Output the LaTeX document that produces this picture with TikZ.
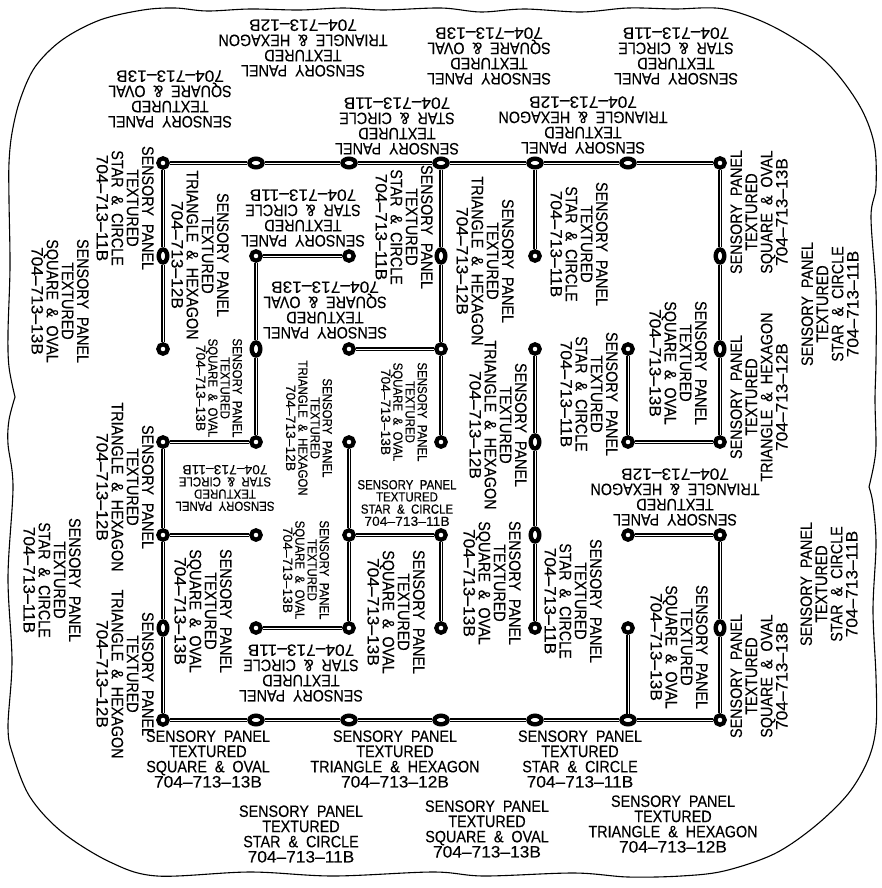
\documentclass[tikz,border=0pt]{standalone}
\usepackage{fontspec}
\usepackage{xcolor}
\setmainfont[FakeStretch=0.87,WordSpace=2,FakeBold=0.25]{Liberation Sans}
\newfontfamily\numfont[FakeStretch=1.05,FakeBold=0.25]{Liberation Sans}
\usetikzlibrary{shapes.geometric}
\definecolor{ink}{HTML}{000000}
\newcommand{\panelstar}{SENSORY PANEL\\TEXTURED\\STAR \& CIRCLE\\{\numfont 704–713–11B}}
\newcommand{\paneltri}{SENSORY PANEL\\TEXTURED\\TRIANGLE \& HEXAGON\\{\numfont 704–713–12B}}
\newcommand{\panelsqr}{SENSORY PANEL\\TEXTURED\\SQUARE \& OVAL\\{\numfont 704–713–13B}}
\tikzset{
  pipe/.style={draw=ink, line width=1.9pt, double=white, double distance=0.9pt},
  joint/.style={circle, draw=ink, fill=white, line width=4.2pt, minimum size=9.4pt, inner sep=0pt},
  jointh/.style={ellipse, draw=ink, fill=white, line width=4.4pt, minimum width=13pt, minimum height=8.6pt, inner sep=0pt},
  jointv/.style={ellipse, draw=ink, fill=white, line width=4.4pt, minimum width=8.6pt, minimum height=13pt, inner sep=0pt},
  lab/.style={text=ink, align=center, inner sep=0pt, font=\fontsize{16.5}{15.2}\selectfont},
  labs/.style={text=ink, align=center, inner sep=0pt, font=\fontsize{13.2}{12.2}\selectfont},
  edge/.style={draw=ink, line width=1.1pt, line join=round},
}
\begin{document}
\begin{tikzpicture}[x=1pt,y=-1pt]
  \useasboundingbox (0,0) rectangle (882,888);
  % outer edge
  \draw[edge] plot[smooth,tension=0.55] coordinates {(15,397) (9,367) (8,333) (10,267) (9,200) (9,163) (12,133) (20,100) (35,67) (62,40) (100,20) (143,10) (175,8) (207,11) (250,9) (300,10) (343,8) (383,10) (441,8) (481,12) (524,9) (581,12) (628,8) (674,9) (724,9) (774,27) (824,60) (858,103) (874,143) (876,187) (871,217) (876,293) (876,360) (875,400) (876,444) (874,464) (869,487)}
    -- plot[smooth,tension=0.55] coordinates {(869,487) (873,504) (876,544) (873,610) (876,677) (876,727) (868,760) (848,794) (814,827) (774,854) (724,871) (681,876) (628,877) (574,873) (484,876) (433,872) (333,876) (250,872) (157,876) (110,862) (62,832) (30,797) (13,755) (8,727) (12,661) (8,577) (13,487) (8,444) (9,420) (15,397)};
  % joints
  \node[joint] (a1) at (163,163) {};
  \node[jointh] (b1) at (256,163) {};
  \node[jointh] (c1) at (349,163) {};
  \node[jointh] (d1) at (441,163) {};
  \node[jointh] (e1) at (535,163) {};
  \node[jointh] (f1) at (628,163) {};
  \node[joint] (g1) at (720,163) {};
  \node[jointv] (a2) at (163,256) {};
  \node[joint] (b2) at (256,256) {};
  \node[joint] (c2) at (349,256) {};
  \node[jointv] (d2) at (441,256) {};
  \node[joint] (e2) at (535,256) {};
  \node[jointv] (g2) at (720,256) {};
  \node[joint] (a3) at (163,349) {};
  \node[jointv] (b3) at (256,349) {};
  \node[joint] (c3) at (349,349) {};
  \node[joint] (d3) at (441,349) {};
  \node[joint] (e3) at (535,349) {};
  \node[joint] (f3) at (628,349) {};
  \node[jointv] (g3) at (720,349) {};
  \node[joint] (a4) at (163,442) {};
  \node[joint] (b4) at (256,442) {};
  \node[joint] (c4) at (349,442) {};
  \node[joint] (d4) at (441,442) {};
  \node[jointv] (e4) at (535,442) {};
  \node[joint] (f4) at (628,442) {};
  \node[joint] (g4) at (720,442) {};
  \node[joint] (a5) at (163,535) {};
  \node[joint] (b5) at (256,535) {};
  \node[joint] (c5) at (349,535) {};
  \node[joint] (d5) at (441,535) {};
  \node[jointv] (e5) at (535,535) {};
  \node[joint] (f5) at (628,535) {};
  \node[joint] (g5) at (720,535) {};
  \node[jointv] (a6) at (163,628) {};
  \node[joint] (b6) at (256,628) {};
  \node[joint] (c6) at (349,628) {};
  \node[joint] (d6) at (441,628) {};
  \node[joint] (e6) at (535,628) {};
  \node[joint] (f6) at (628,628) {};
  \node[jointv] (g6) at (720,628) {};
  \node[joint] (a7) at (163,720) {};
  \node[jointh] (b7) at (256,720) {};
  \node[jointh] (c7) at (349,720) {};
  \node[jointh] (d7) at (441,720) {};
  \node[jointh] (e7) at (535,720) {};
  \node[jointh] (f7) at (628,720) {};
  \node[joint] (g7) at (720,720) {};
  % runs
  \draw[pipe] (a1) -- (b1);
  \draw[pipe] (b1) -- (c1);
  \draw[pipe] (c1) -- (d1);
  \draw[pipe] (d1) -- (e1);
  \draw[pipe] (e1) -- (f1);
  \draw[pipe] (f1) -- (g1);
  \draw[pipe] (g1) -- (g2);
  \draw[pipe] (g2) -- (g3);
  \draw[pipe] (g3) -- (g4);
  \draw[pipe] (g4) -- (f4);
  \draw[pipe] (f4) -- (f3);
  \draw[pipe] (a1) -- (a2);
  \draw[pipe] (a2) -- (a3);
  \draw[pipe] (b2) -- (c2);
  \draw[pipe] (b2) -- (b3);
  \draw[pipe] (b3) -- (b4);
  \draw[pipe] (b4) -- (a4);
  \draw[pipe] (a4) -- (a5);
  \draw[pipe] (a5) -- (b5);
  \draw[pipe] (a5) -- (a6);
  \draw[pipe] (a6) -- (a7);
  \draw[pipe] (a7) -- (b7);
  \draw[pipe] (b7) -- (c7);
  \draw[pipe] (c7) -- (d7);
  \draw[pipe] (d7) -- (e7);
  \draw[pipe] (e7) -- (f7);
  \draw[pipe] (f7) -- (g7);
  \draw[pipe] (g7) -- (g6);
  \draw[pipe] (g6) -- (g5);
  \draw[pipe] (g5) -- (f5);
  \draw[pipe] (f7) -- (f6);
  \draw[pipe] (d1) -- (d2);
  \draw[pipe] (d2) -- (d3);
  \draw[pipe] (d3) -- (d4);
  \draw[pipe] (d3) -- (c3);
  \draw[pipe] (e1) -- (e2);
  \draw[pipe] (e3) -- (e4);
  \draw[pipe] (e4) -- (e5);
  \draw[pipe] (e5) -- (e6);
  \draw[pipe] (c4) -- (c5);
  \draw[pipe] (c5) -- (d5);
  \draw[pipe] (d5) -- (d6);
  \draw[pipe] (c5) -- (c6);
  \draw[pipe] (c6) -- (b6);
  % upside down labels
  \node[lab, rotate=180] (t1) at (303,48) {\paneltri};
  \node[lab, rotate=180] (t2) at (489,56) {\panelsqr};
  \node[lab, rotate=180] (t3) at (676,56) {\panelstar};
  \node[lab, rotate=180] (t4) at (170,99) {\panelsqr};
  \node[lab, rotate=180] (t5) at (397,126) {\panelstar};
  \node[lab, rotate=180] (t6) at (583,125) {\paneltri};
  \node[lab, rotate=180] (t7) at (303,218) {\panelstar};
  \node[lab, rotate=180] (t8) at (325,310) {\panelsqr};
  \node[labs, rotate=180] (t9) at (225,488) {\panelstar};
  \node[lab, rotate=180] (t10) at (301,673) {\panelstar};
  \node[lab, rotate=180] (t11) at (675,497) {\paneltri};
  % upright labels
  \node[labs] (u1) at (407,503) {\panelstar};
  \node[lab] (u2) at (208,759) {\panelsqr};
  \node[lab] (u3) at (395,759) {\paneltri};
  \node[lab] (u4) at (580,759) {\panelstar};
  \node[lab] (u5) at (301,834) {\panelstar};
  \node[lab] (u6) at (487,829) {\panelsqr};
  \node[lab] (u7) at (673,824) {\paneltri};
  % labels reading down
  \node[lab, rotate=-90] (d1l) at (125,208) {\panelstar};
  \node[lab, rotate=-90] (d2l) at (60,301) {\panelsqr};
  \node[lab, rotate=-90] (d3l) at (200,255) {\paneltri};
  \node[labs, rotate=-90] (d4l) at (219,388) {\panelsqr};
  \node[labs, rotate=-90] (d5l) at (309,428) {\paneltri};
  \node[lab, rotate=-90] (d6l) at (404,227) {\panelstar};
  \node[labs, rotate=-90] (d7l) at (404,412) {\panelsqr};
  \node[lab, rotate=-90] (d8l) at (485,261) {\paneltri};
  \node[lab, rotate=-90] (d9l) at (579,244) {\panelstar};
  \node[lab, rotate=-90] (d10l) at (498,425) {\paneltri};
  \node[lab, rotate=-90] (d11l) at (589,394) {\panelstar};
  \node[lab, rotate=-90] (d12l) at (678,363) {\panelsqr};
  \node[lab, rotate=-90] (d13l) at (125,487) {\paneltri};
  \node[lab, rotate=-90] (d14l) at (52,580) {\panelstar};
  \node[lab, rotate=-90] (d15l) at (125,674) {\paneltri};
  \node[lab, rotate=-90] (d16l) at (203,611) {\panelsqr};
  \node[labs, rotate=-90] (d17l) at (306,570) {\panelsqr};
  \node[lab, rotate=-90] (d18l) at (396,612) {\panelsqr};
  \node[lab, rotate=-90] (d19l) at (492,583) {\panelsqr};
  \node[lab, rotate=-90] (d20l) at (573,601) {\panelstar};
  \node[lab, rotate=-90] (d21l) at (679,647) {\panelsqr};
  % labels reading up
  \node[lab, rotate=90] (r1) at (759,212) {\panelsqr};
  \node[lab, rotate=90] (r2) at (759,397) {\paneltri};
  \node[lab, rotate=90] (r3) at (830,304) {\panelstar};
  \node[lab, rotate=90] (r4) at (829,584) {\panelstar};
  \node[lab, rotate=90] (r5) at (759,676) {\panelsqr};
\end{tikzpicture}
\end{document}
